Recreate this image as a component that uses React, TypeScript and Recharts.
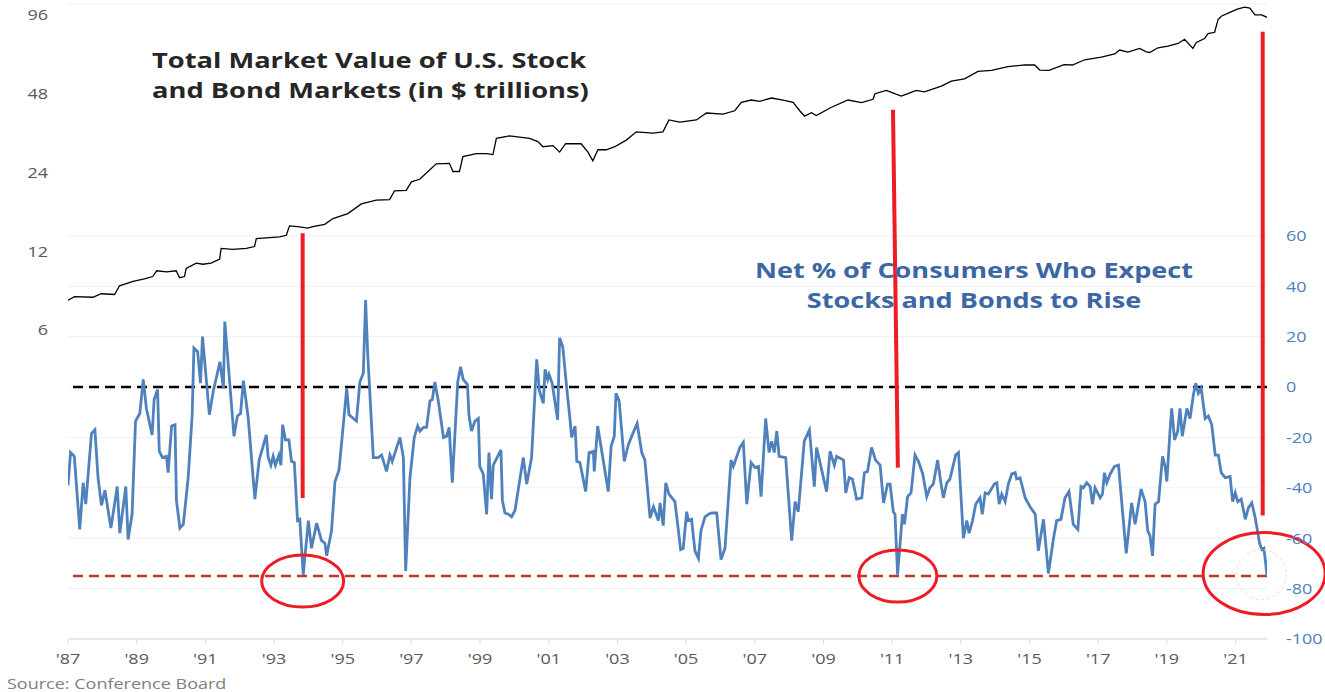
import React from "react";
import {
  ComposedChart,
  Line,
  XAxis,
  YAxis,
  CartesianGrid,
  ReferenceLine,
  ReferenceDot,
} from "recharts";

// months since Jan 1987 for each read point
const marketMonths = [
  0, 2.3, 8.7, 11.6, 16.3, 18, 22.7, 26.7, 29.6, 31, 34.4, 37.8, 39, 40.7, 41.3, 44.8, 47.1, 50, 53, 53.5,
  57.6, 62.3, 65.2, 65.8, 69.3, 73.9, 76.3, 77.4, 80.3, 83.8, 85.6, 89.7, 92.6, 97.8, 102.5, 107.7, 112.4,
  114.1, 118.2, 120, 122.9, 125.8, 128.7, 133.3, 134.5, 136.8, 138, 142.7, 146.2, 148.5, 149.7, 154.3, 161.3,
  164.2, 166, 169.5, 171.8, 173.9, 179.3, 181.7, 183.4, 185.2, 188.1, 191.1, 195.1, 198.6, 204.4, 207.9, 210,
  213.8, 219.6, 223.1, 228.9, 233, 235.3, 238.8, 241.7, 245.8, 249.9, 253.4, 255.7, 257.4, 259.8, 261.5,
  266.8, 272.6, 277.3, 281.3, 282, 286, 288.9, 291.2, 293.5, 296.4, 299.3, 305.2, 308.7, 313.3, 318, 322.7,
  328.5, 334.3, 337.8, 339.6, 342.8, 348.1, 351, 355.3, 361.1, 365.8, 367.5, 370.4, 374.5, 376.8, 378, 380.9,
  384.4, 387.9, 390.2, 393.1, 394.3, 397.2, 398.4, 400.7, 401.9, 403, 406, 408.9, 411.2, 413, 414.8, 416,
  417.1, 419,
];
// $ trillions
const marketValues = [
  7.8, 8.05, 8.0, 8.25, 8.2, 8.85, 9.2, 9.4, 9.6, 10.1, 10.0, 10.1, 9.5, 9.6, 10.3, 10.8, 10.7, 10.8, 11.2, 12.3,
  12.2, 12.3, 12.5, 13.4, 13.5, 13.6, 13.8, 15.0, 14.9, 14.7, 14.9, 15.2, 16.0, 16.7, 18.2, 18.8, 18.9,
  20.4, 20.5, 22.1, 22.6, 24.2, 25.9, 26.0, 24.2, 24.2, 27.6, 28.3, 28.3, 28.1, 32.4, 33.1, 32.4,
  31.5, 30.1, 30.4, 28.7, 30.9, 30.9, 28.7, 26.6, 29.3, 29.3, 30.1, 31.9, 34.3, 33.9, 34.3, 38.1,
  37.4, 38.1, 40.5, 40.1, 41.3, 44.5, 45.4, 44.9, 46.2, 45.4, 44.5, 41.3, 39.4, 40.6, 39.6,
  42.6, 45.4, 44.4, 45.7, 48.0, 49.4, 48.0, 47.0, 48.0, 49.4, 48.8, 51.3, 53.6, 54.7, 58.4, 58.9,
  60.9, 61.8, 61.8, 59.1, 58.9, 62.0, 61.8, 64.7, 66.2, 68.1, 70.5, 69.2, 71.5, 69.4, 69.0, 71.9,
  72.9, 74.7, 77.5, 71.5, 75.4, 78.0, 81.5, 82.4, 92.2, 94.9, 98.2, 101.2, 102.9, 102.0, 96.0, 96.0,
  96.0, 94.0,
];

const netMonths = [
  0, 0.9, 2.2, 4.1, 5.3, 6.2, 8.2, 9.4, 10.5, 11.7, 12.9, 15, 17.2, 18.1, 20.2, 21, 22.4, 23.6, 25.1, 26.3,
  27.4, 29.4, 30.1, 31.3, 31.9, 33, 34.4, 35, 36.2, 37.4, 37.9, 39.1, 40.3, 42, 43.4, 44, 45.3, 46.3, 47,
  49.4, 50.8, 53.1, 54.3, 54.8, 58, 59.2, 60.3, 61.3, 63, 65.3, 66.8, 69.3, 69.96, 70.9, 71.7, 72.5, 73.7,
  74.4, 75, 76, 77.2, 78.1, 79.1, 80.2, 81, 82.2, 84, 85.1, 86.9, 88.6, 89.8, 90.4, 92.1, 93.3, 94.7, 96.2,
  97.4, 98.2, 100.8, 102, 103.2, 104, 104.7, 106.7, 108.4, 109.6, 111.3, 112.5, 113.3, 116, 117.2, 118,
  119.5, 121, 122.2, 123, 124.2, 125.3, 126.5, 127.3, 128.2, 129.4, 131.2, 132.3, 133.2, 134.3, 136.2,
  137.2, 138.1, 139.6, 140.1, 141, 142.2, 143.4, 143.9, 145.1, 146.3, 147.1, 148, 148.6, 151.3, 151.8,
  152.7, 153.9, 155, 156.2, 159.1, 160.3, 162, 163.8, 164.7, 166.1, 166.7, 167.6, 168.1, 169.2, 171.1,
  171.8, 172.9, 174.3, 175.4, 176, 177.2, 177.8, 178.9, 180.9, 182.1, 183.6, 183.9, 185.1, 188.8, 189.8,
  190.9, 191.5, 192.6, 194.4, 195.8, 197, 198.9, 200.5, 201.6, 203.4, 204.6, 206.3, 206.9, 208, 208.9,
  210, 212.1, 214.1, 215, 216.2, 216.8, 217.9, 219.1, 220.3, 221.2, 222.6, 223.8, 225, 226.7, 228.2, 229.6,
  231.7, 232.5, 233.3, 234.8, 236, 237.2, 238.7, 240.1, 241.3, 242.2, 243.8, 245, 245.9, 246.8, 247.7,
  248.5, 250.8, 252.9, 254.1, 255.2, 257.3, 259.1, 260.8, 261.6, 265.1, 266.3, 267.8, 268.6, 271, 271.8,
  273, 274.1, 275.6, 277.4, 278.3, 279.4, 280.8, 282.2, 283.8, 285, 286.4, 287.3, 288.4, 289, 289.9, 291.6,
  292.3, 293.4, 294.6, 296, 297.2, 298.7, 300.1, 301.2, 302.4, 303.9, 305.1, 305.9, 307.1, 308.2, 310.2,
  311.2, 312.9, 314.1, 314.9, 316.1, 317.2, 318.7, 319.5, 320.5, 321.6, 323.7, 324.6, 325.4, 326.3, 327.5,
  328.6, 329.8, 331, 331.5, 332.7, 334.5, 336.2, 338, 339.1, 340.9, 342.6, 344.4, 345.5, 347, 348.4, 349.8,
  351.3, 352.9, 354, 354.8, 356, 357.2, 358, 358.9, 360.7, 361.5, 362.2, 363, 364.2, 365.7, 367.1, 369.8,
  371.7, 372.9, 375, 376.4, 377.3, 378.1, 379, 379.9, 381.1, 382.5, 383.4, 384, 385.1, 385.7, 386.7, 387.8,
  388.6, 389.4, 391, 392.1, 393.3, 394.1, 395, 396, 397.4, 398.5, 399.7, 400.9, 402, 403, 404.4, 406.1,
  407, 407.9, 408.8, 410, 411.4, 412.5, 413.7, 414.9, 416.4, 417.2, 417.9, 418.4, 419,
];
// net % of consumers expecting stocks and bonds to rise
const netValues = [
  -39, -26, -27.5, -56.5, -38, -46.5, -18.5, -17, -36, -47, -41, -56, -39.5, -58, -39.5, -60.5, -50.5, -13.5, -10.5, 3,
  -8.5, -19, -5, -1, -25.5, -28, -27.5, -34, -15.5, -15, -45, -56, -54.5, -36, -11, 15.5, 14, 1.5, 20,
  -11, -1.5, 10, -0.5, 26, -19.5, -11.5, -10.5, 2.5, -12.5, -44.5, -29, -19, -28, -31, -27.5, -31, -27,
  -31, -15, -21, -21, -29.5, -30, -53, -52.5, -74.5, -53, -64, -54, -61, -62, -67, -57, -37.5, -33, -15,
  -0.5, -11, -13.5, 2, 5.5, 34.5, 14, -28, -28, -27, -33.5, -27, -29.5, -20, -28, -73,
  -36, -20, -15.5, -17.5, -16, -16, -5.5, -5, 2, -5.5, -20, -19.5, -16, -38, 2,
  8, 3, 1, -11, -17.5, -13.5, -12.5, -31.5, -34.5, -50.5, -26, -44.5, -31, -25, -45,
  -50, -50.5, -51.5, -49, -28, -38.5, -28, 11, -1.5, -6.5, 7, 3, 5, 1.5, -13,
  19.5, 16, -0.5, -12.5, -20, -15.5, -29.5, -30, -41.5, -26, -25.5, -33.5, -15.5, -41.5, -23.5,
  -19.5, -2.5, -5.5, -29.5, -23, -19.5, -14.5, -26, -29, -52, -47.5, -53, -46, -55, -38,
  -42.5, -45.5, -64.5, -64, -49.5, -53, -52.5, -65, -68, -57, -51.5, -50.5, -50, -50, -68.5, -64,
  -29, -31.5, -29, -24, -22, -46.5, -30, -32, -31.5, -43.5, -12.5, -26, -21.5, -26, -17.5,
  -27.5, -28, -61, -45.5, -49.5, -21.5, -17, -39.5, -24, -41.5, -25.5, -31, -27.5, -29, -42,
  -36, -36.5, -44.5, -44, -34, -33.5, -24, -29, -31, -46, -38.5, -38.5, -49.5, -50.5, -74.5, -50.5,
  -54.5, -43.5, -42, -27, -29.5, -34.5, -43.5, -40, -38.5, -29, -38.5, -44, -38, -36.5, -27,
  -26, -60, -53, -58, -53, -46.5, -44, -50.5, -42, -42.5, -38.5, -38, -46.5, -42.5, -45.5,
  -38.5, -34.5, -34, -36.5, -36, -44, -47.5, -50.5, -65, -52.5, -74, -60, -53, -52.5, -44, -41.5,
  -54.5, -56.5, -39.5, -40, -38, -39.5, -46.5, -40, -44, -42.5, -34, -38, -34.5, -31.5, -31, -66,
  -46, -54.5, -40.5, -45.5, -57, -59, -67, -46.5, -45.5, -27.5, -31.5, -37.5, -17.5, -8.5, -21, -17.5,
  -8.5, -19.5, -8.5, -12.5, -3, 1.5, -2.5, -0.5, -12.5, -11.5, -15, -27, -27, -34, -36, -35.5,
  -45.5, -42, -45.5, -44.5, -52.5, -48, -46, -52, -62, -64.5, -64, -68.5, -75,
];

const xTickMonths = [0, 24, 48, 72, 96, 120, 144, 168, 192, 216, 240, 264, 288, 312, 336, 360, 384, 408];
const xTickLabels = ["'87", "'89", "'91", "'93", "'95", "'97", "'99", "'01", "'03", "'05", "'07", "'09", "'11", "'13", "'15", "'17", "'19", "'21"];
const leftTicks = [6, 12, 24, 48, 96];
const rightTicks = [-100, -80, -60, -40, -20, 0, 20, 40, 60];

const marketData = marketMonths.map((m, i) => ({ m, total: marketValues[i] }));
const netData = netMonths.map((m, i) => ({ m, net: netValues[i] }));

const RED = "#ee1c25";
const FONT = "'Open Sans', 'DejaVu Sans', sans-serif";
const STRETCH = 1.2; // the source picture is wider than tall, text looks stretched

const makeTick = (anchor: "start" | "middle" | "end", fill: string, dy: string, label: (v: number) => string) =>
  (props: any) => {
    const { x, y, payload } = props;
    return (
      <g transform={`translate(${x},${y})`}>
        <text
          transform={`scale(${STRETCH},1)`}
          x={0}
          y={0}
          dy={dy}
          textAnchor={anchor}
          fill={fill}
          fontSize={15}
          fontFamily={FONT}
        >
          {label(payload.value)}
        </text>
      </g>
    );
  };

const xTick = makeTick("middle", "#595959", "0.71em", (v) => xTickLabels[xTickMonths.indexOf(v)] ?? "");
const leftTick = makeTick("end", "#595959", "0.355em", (v) => String(v));
const rightTick = makeTick("start", "#4f81bd", "0.355em", (v) => String(v));

const ellipseShape = (rx: number, ry: number, stroke: string, width: number, dash?: string) =>
  (props: any) => (
    <ellipse
      cx={props.cx}
      cy={props.cy}
      rx={rx}
      ry={ry}
      fill="none"
      stroke={stroke}
      strokeWidth={width}
      strokeDasharray={dash}
    />
  );

export default function App() {
  return (
    <div
      style={{
        position: "absolute",
        left: 0,
        top: 0,
        width: 1325,
        height: 692,
        overflow: "hidden",
        background: "#fff",
        fontFamily: FONT,
      }}
    >
      <ComposedChart width={1325} height={692} margin={{ top: 4, right: 0, bottom: 23, left: 0 }}>
        <CartesianGrid yAxisId="right" vertical={false} stroke="#efefef" strokeWidth={1} />
        <XAxis
          type="number"
          dataKey="m"
          domain={[0, 419]}
          ticks={xTickMonths}
          height={30}
          tickSize={5}
          tickMargin={9}
          stroke="#d9d9d9"
          tick={xTick}
          allowDataOverflow
        />
        <YAxis
          yAxisId="left"
          scale="log"
          domain={[0.3952, 105.7]}
          ticks={leftTicks}
          allowDataOverflow
          width={68}
          axisLine={false}
          tickLine={false}
          tickMargin={14}
          tick={leftTick}
        />
        <YAxis
          yAxisId="right"
          orientation="right"
          domain={[-100, 152]}
          ticks={rightTicks}
          allowDataOverflow
          width={58}
          axisLine={false}
          tickLine={false}
          tickMargin={13}
          tick={rightTick}
        />
        <ReferenceLine yAxisId="right" y={0} stroke="#000" strokeWidth={2.5} strokeDasharray="10 6" />
        <ReferenceLine yAxisId="right" y={-75} stroke="#c0392b" strokeWidth={2.5} strokeDasharray="10 6" />
        <Line
          yAxisId="left"
          data={marketData}
          dataKey="total"
          type="linear"
          stroke="#000"
          strokeWidth={1.3}
          dot={false}
          isAnimationActive={false}
        />
        <Line
          yAxisId="right"
          data={netData}
          dataKey="net"
          type="linear"
          stroke="#4f81bd"
          strokeWidth={2.8}
          dot={false}
          isAnimationActive={false}
        />
        <ReferenceLine
          yAxisId="right"
          segment={[{ x: 82, y: 61 }, { x: 82, y: -44 }]}
          stroke={RED}
          strokeWidth={4}
          ifOverflow="visible"
        />
        <ReferenceLine
          yAxisId="right"
          segment={[{ x: 288.3, y: 110 }, { x: 290, y: -32 }]}
          stroke={RED}
          strokeWidth={4}
          ifOverflow="visible"
        />
        <ReferenceLine
          yAxisId="right"
          segment={[{ x: 417.5, y: 141 }, { x: 417.5, y: -51 }]}
          stroke={RED}
          strokeWidth={4}
          ifOverflow="visible"
        />
        <ReferenceDot yAxisId="right" x={82} y={-77} ifOverflow="visible" shape={ellipseShape(41, 26, RED, 3)} />
        <ReferenceDot yAxisId="right" x={290} y={-75} ifOverflow="visible" shape={ellipseShape(39, 26, RED, 3)} />
        <ReferenceDot yAxisId="right" x={417} y={-74.5} ifOverflow="visible" shape={ellipseShape(25, 25, "#f8dcb0", 1, "3 3")} />
        <ReferenceDot yAxisId="right" x={418} y={-74} ifOverflow="visible" shape={ellipseShape(61, 41, RED, 3)} />
      </ComposedChart>

      <div
        style={{
          position: "absolute",
          left: 152,
          top: 44,
          fontSize: 22,
          lineHeight: "30px",
          fontWeight: 700,
          color: "#262626",
          whiteSpace: "nowrap",
          transform: "scaleX(1.24)",
          transformOrigin: "0 0",
        }}
      >
        Total Market Value of U.S. Stock
        <br />
        and Bond Markets (in $ trillions)
      </div>
      <div
        style={{
          position: "absolute",
          left: 674,
          width: 600,
          top: 254,
          fontSize: 22,
          lineHeight: "30px",
          fontWeight: 700,
          color: "#3d67a4",
          textAlign: "center",
          whiteSpace: "nowrap",
          transform: "scaleX(1.23)",
          transformOrigin: "50% 0",
        }}
      >
        Net % of Consumers Who Expect
        <br />
        Stocks and Bonds to Rise
      </div>
      <div
        style={{
          position: "absolute",
          left: 7,
          top: 673,
          fontSize: 15,
          color: "#808080",
          whiteSpace: "nowrap",
          transform: `scaleX(${STRETCH})`,
          transformOrigin: "0 0",
        }}
      >
        Source: Conference Board
      </div>
    </div>
  );
}
